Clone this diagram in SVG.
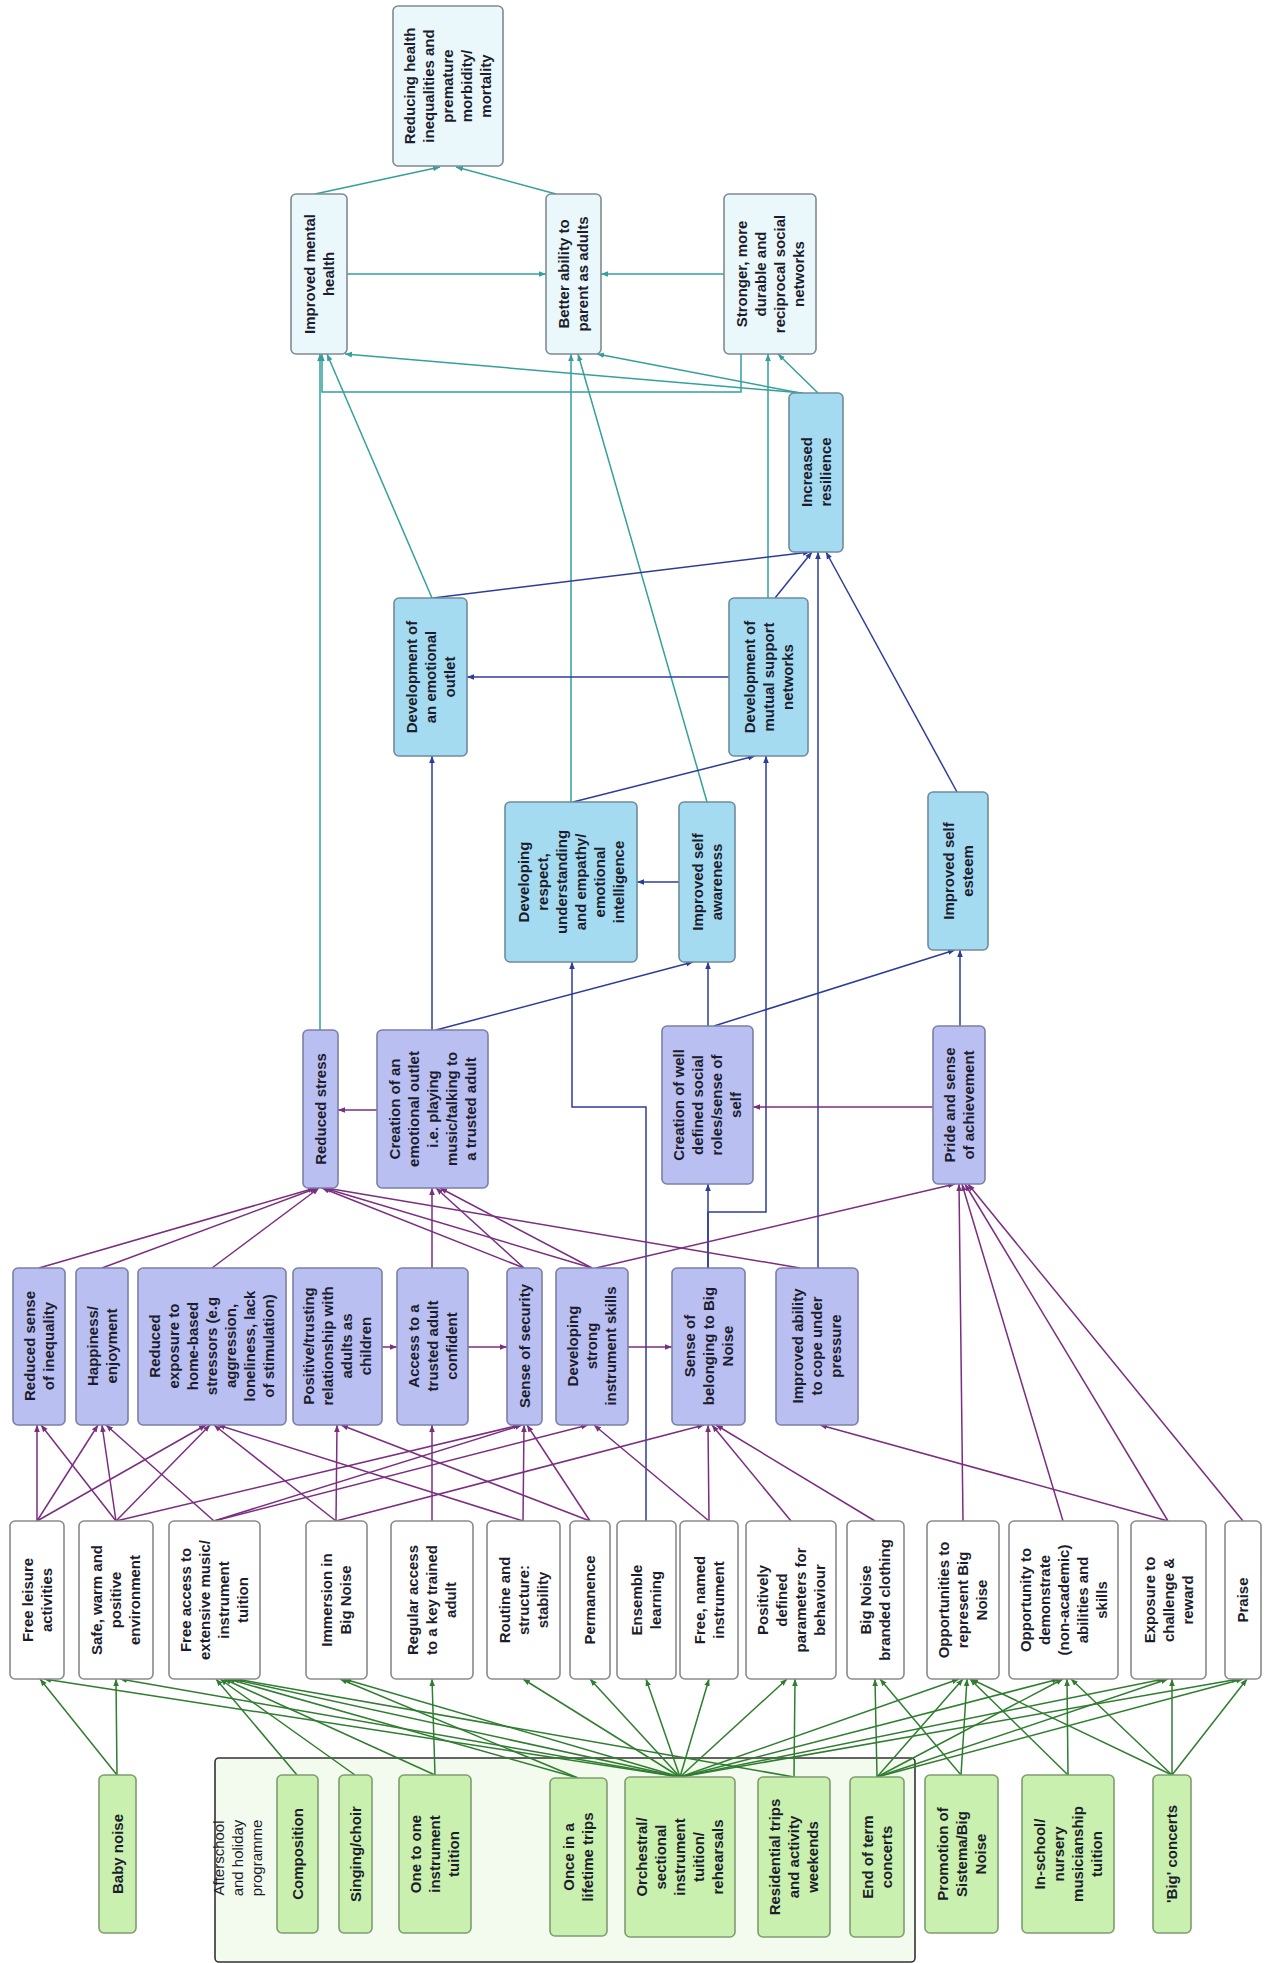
<svg xmlns="http://www.w3.org/2000/svg" width="1271" height="1963" viewBox="0 0 1271 1963">
<defs>
<style>
.t{font-family:"Liberation Sans",Arial,sans-serif;font-size:15px;font-weight:bold;fill:#1c1c2c;text-anchor:middle}
.lbl{font-family:"Liberation Sans",Arial,sans-serif;font-size:15px;fill:#1c1c2c;text-anchor:middle}
.cy{fill:#eaf8fc;stroke:#7f8b90;stroke-width:1.6}
.bl{fill:#a5dbf1;stroke:#6f8c9c;stroke-width:1.6}
.lv{fill:#b9bff1;stroke:#7a80a6;stroke-width:1.6}
.wh{fill:#ffffff;stroke:#8a8a8a;stroke-width:1.6}
.gr{fill:#c9f0ae;stroke:#7f9c72;stroke-width:1.6}
.ct{fill:#f3fbee;stroke:#333333;stroke-width:1.6}
.e{fill:none;stroke-width:1.5}
.teal{stroke:#35a09a}
.blue{stroke:#2d3c9c}
.purp{stroke:#7c2d80}
.grn{stroke:#2f7d2f}
</style>
<marker id="at" viewBox="0 0 10 10" refX="10" refY="5" markerWidth="7" markerHeight="7" markerUnits="userSpaceOnUse" orient="auto"><path d="M0,1 L10,5 L0,9 z" fill="#35a09a"/></marker>
<marker id="ab" viewBox="0 0 10 10" refX="10" refY="5" markerWidth="7" markerHeight="7" markerUnits="userSpaceOnUse" orient="auto"><path d="M0,1 L10,5 L0,9 z" fill="#2d3c9c"/></marker>
<marker id="ap" viewBox="0 0 10 10" refX="10" refY="5" markerWidth="7" markerHeight="7" markerUnits="userSpaceOnUse" orient="auto"><path d="M0,1 L10,5 L0,9 z" fill="#7c2d80"/></marker>
<marker id="ag" viewBox="0 0 10 10" refX="10" refY="5" markerWidth="7" markerHeight="7" markerUnits="userSpaceOnUse" orient="auto"><path d="M0,1 L10,5 L0,9 z" fill="#2f7d2f"/></marker>
</defs>
<rect width="1271" height="1963" fill="#ffffff"/>

<g id="container-afterschool">
<rect class="ct" x="215" y="1758" width="700" height="204" rx="4"/>
<text class="lbl" transform="translate(238,1858) rotate(-90)"><tspan x="0" y="-14">Afterschool</tspan><tspan x="0" y="5">and holiday</tspan><tspan x="0" y="24">programme</tspan></text>
</g>

<g id="connectors">
<g class="e teal" marker-end="url(#at)">
<line x1="315" y1="194" x2="440" y2="167"/>
<line x1="556" y1="194" x2="456" y2="167"/>
<line x1="347" y1="274" x2="546" y2="274"/>
<line x1="724" y1="274" x2="601" y2="274"/>
<line x1="320" y1="1030" x2="320" y2="354"/>
<line x1="432" y1="598" x2="327" y2="354"/>
<line x1="803" y1="393" x2="345" y2="354"/>
<polyline points="741,354 741,392 322,392 322,354"/>
<line x1="571" y1="802" x2="571" y2="354"/>
<line x1="707" y1="802" x2="578" y2="354"/>
<line x1="800" y1="393" x2="597" y2="354"/>
<line x1="768" y1="598" x2="768" y2="354"/>
<line x1="818" y1="393" x2="778" y2="354"/>
</g>
<g class="e blue" marker-end="url(#ab)">
<line x1="433" y1="598" x2="810" y2="552"/>
<line x1="775" y1="598" x2="812" y2="552"/>
<line x1="818" y1="1268" x2="818" y2="552"/>
<line x1="957" y1="792" x2="826" y2="552"/>
<line x1="729" y1="677" x2="467" y2="677"/>
<line x1="432" y1="1030" x2="432" y2="756"/>
<line x1="436" y1="1030" x2="693" y2="962"/>
<line x1="708" y1="1026" x2="708" y2="962"/>
<line x1="714" y1="1026" x2="955" y2="950"/>
<line x1="960" y1="1026" x2="960" y2="950"/>
<line x1="679" y1="882" x2="637" y2="882"/>
<line x1="573" y1="802" x2="755" y2="756"/>
<polyline points="646,1521 646,1107 572,1107 572,962"/>
<line x1="708" y1="1268" x2="708" y2="1184"/>
<polyline points="708,1268 708,1212 766,1212 766,756"/>
</g>
<g class="e purp" marker-end="url(#ap)">
<line x1="377" y1="1110" x2="338" y2="1110"/>
<line x1="933" y1="1107" x2="753" y2="1107"/>
<line x1="39" y1="1268" x2="315" y2="1188"/>
<line x1="102" y1="1268" x2="317" y2="1188"/>
<line x1="212" y1="1268" x2="319" y2="1188"/>
<line x1="524" y1="1268" x2="322" y2="1188"/>
<line x1="592" y1="1268" x2="324" y2="1188"/>
<line x1="800" y1="1268" x2="326" y2="1188"/>
<line x1="432" y1="1268" x2="432" y2="1188"/>
<line x1="524" y1="1268" x2="436" y2="1188"/>
<line x1="592" y1="1268" x2="440" y2="1188"/>
<line x1="596" y1="1268" x2="955" y2="1184"/>
<line x1="382" y1="1347" x2="397" y2="1347"/>
<line x1="468" y1="1347" x2="507" y2="1347"/>
<line x1="628" y1="1347" x2="672" y2="1347"/>
<line x1="37" y1="1521" x2="37" y2="1425"/>
<line x1="116" y1="1521" x2="41" y2="1425"/>
<line x1="37" y1="1521" x2="98" y2="1425"/>
<line x1="116" y1="1521" x2="102" y2="1425"/>
<line x1="214" y1="1521" x2="106" y2="1425"/>
<line x1="37" y1="1521" x2="206" y2="1425"/>
<line x1="116" y1="1521" x2="210" y2="1425"/>
<line x1="336" y1="1521" x2="214" y2="1425"/>
<line x1="523" y1="1521" x2="218" y2="1425"/>
<line x1="336" y1="1521" x2="337" y2="1425"/>
<line x1="590" y1="1521" x2="341" y2="1425"/>
<line x1="432" y1="1521" x2="432" y2="1425"/>
<line x1="116" y1="1521" x2="520" y2="1425"/>
<line x1="214" y1="1521" x2="522" y2="1425"/>
<line x1="523" y1="1521" x2="524" y2="1425"/>
<line x1="590" y1="1521" x2="527" y2="1425"/>
<line x1="214" y1="1521" x2="588" y2="1425"/>
<line x1="709" y1="1521" x2="594" y2="1425"/>
<line x1="709" y1="1521" x2="708" y2="1425"/>
<line x1="791" y1="1521" x2="712" y2="1425"/>
<line x1="875" y1="1521" x2="716" y2="1425"/>
<line x1="336" y1="1521" x2="704" y2="1425"/>
<line x1="1168" y1="1521" x2="820" y2="1425"/>
<line x1="963" y1="1521" x2="959" y2="1184"/>
<line x1="1063" y1="1521" x2="962" y2="1184"/>
<line x1="1168" y1="1521" x2="965" y2="1184"/>
<line x1="1243" y1="1521" x2="968" y2="1184"/>
</g>
<g class="e grn" marker-end="url(#ag)">
<line x1="117" y1="1775" x2="40" y2="1679"/>
<line x1="117" y1="1775" x2="116" y2="1679"/>
<line x1="297" y1="1775" x2="216" y2="1679"/>
<line x1="355" y1="1775" x2="220" y2="1679"/>
<line x1="435" y1="1775" x2="432" y2="1679"/>
<line x1="435" y1="1775" x2="224" y2="1679"/>
<line x1="578" y1="1778" x2="228" y2="1679"/>
<line x1="578" y1="1778" x2="340" y2="1679"/>
<line x1="680" y1="1777" x2="44" y2="1679"/>
<line x1="680" y1="1777" x2="120" y2="1679"/>
<line x1="680" y1="1777" x2="232" y2="1679"/>
<line x1="680" y1="1777" x2="344" y2="1679"/>
<line x1="680" y1="1777" x2="523" y2="1679"/>
<line x1="680" y1="1777" x2="590" y2="1679"/>
<line x1="680" y1="1777" x2="646" y2="1679"/>
<line x1="680" y1="1777" x2="709" y2="1679"/>
<line x1="680" y1="1777" x2="787" y2="1679"/>
<line x1="680" y1="1777" x2="959" y2="1679"/>
<line x1="680" y1="1777" x2="1059" y2="1679"/>
<line x1="680" y1="1777" x2="1164" y2="1679"/>
<line x1="680" y1="1777" x2="1239" y2="1679"/>
<line x1="794" y1="1777" x2="236" y2="1679"/>
<line x1="794" y1="1777" x2="795" y2="1679"/>
<line x1="877" y1="1777" x2="875" y2="1679"/>
<line x1="877" y1="1777" x2="963" y2="1679"/>
<line x1="877" y1="1777" x2="1063" y2="1679"/>
<line x1="877" y1="1777" x2="1168" y2="1679"/>
<line x1="877" y1="1777" x2="1243" y2="1679"/>
<line x1="961" y1="1775" x2="967" y2="1679"/>
<line x1="961" y1="1775" x2="880" y2="1679"/>
<line x1="1068" y1="1775" x2="1067" y2="1679"/>
<line x1="1068" y1="1775" x2="970" y2="1679"/>
<line x1="1172" y1="1775" x2="971" y2="1679"/>
<line x1="1172" y1="1775" x2="1071" y2="1679"/>
<line x1="1172" y1="1775" x2="1172" y2="1679"/>
<line x1="1172" y1="1775" x2="1247" y2="1679"/>
</g>
</g>

<g id="n-reducing"><rect class="cy" x="393" y="6" width="110" height="160" rx="5"/><text class="t" transform="translate(448,86) rotate(-90)"><tspan x="0" y="-33">Reducing health</tspan><tspan x="0" y="-14">inequalities and</tspan><tspan x="0" y="5">premature</tspan><tspan x="0" y="24">morbidity/</tspan><tspan x="0" y="43">mortality</tspan></text></g>
<g id="n-mental-health"><rect class="cy" x="291" y="194" width="56" height="160" rx="5"/><text class="t" transform="translate(319,274) rotate(-90)"><tspan x="0" y="-4.5">Improved mental</tspan><tspan x="0" y="14.5">health</tspan></text></g>
<g id="n-parent"><rect class="cy" x="546" y="194" width="55" height="160" rx="5"/><text class="t" transform="translate(573.5,274) rotate(-90)"><tspan x="0" y="-4.5">Better ability to</tspan><tspan x="0" y="14.5">parent as adults</tspan></text></g>
<g id="n-networks"><rect class="cy" x="724" y="194" width="92" height="160" rx="5"/><text class="t" transform="translate(770,274) rotate(-90)"><tspan x="0" y="-23.5">Stronger, more</tspan><tspan x="0" y="-4.5">durable and</tspan><tspan x="0" y="14.5">reciprocal social</tspan><tspan x="0" y="33.5">networks</tspan></text></g>
<g id="n-resilience"><rect class="bl" x="789" y="393" width="54" height="159" rx="5"/><text class="t" transform="translate(816,472) rotate(-90)"><tspan x="0" y="-4.5">Increased</tspan><tspan x="0" y="14.5">resilience</tspan></text></g>
<g id="n-dev-outlet"><rect class="bl" x="394" y="598" width="73" height="158" rx="5"/><text class="t" transform="translate(430.5,677) rotate(-90)"><tspan x="0" y="-14">Development of</tspan><tspan x="0" y="5">an emotional</tspan><tspan x="0" y="24">outlet</tspan></text></g>
<g id="n-dev-support"><rect class="bl" x="729" y="598" width="79" height="158" rx="5"/><text class="t" transform="translate(768.5,677) rotate(-90)"><tspan x="0" y="-14">Development of</tspan><tspan x="0" y="5">mutual support</tspan><tspan x="0" y="24">networks</tspan></text></g>
<g id="n-respect"><rect class="bl" x="505" y="802" width="132" height="160" rx="5"/><text class="t" transform="translate(571,882) rotate(-90)"><tspan x="0" y="-42.5">Developing</tspan><tspan x="0" y="-23.5">respect,</tspan><tspan x="0" y="-4.5">understanding</tspan><tspan x="0" y="14.5">and empathy/</tspan><tspan x="0" y="33.5">emotional</tspan><tspan x="0" y="52.5">intelligence</tspan></text></g>
<g id="n-self-awareness"><rect class="bl" x="679" y="802" width="56" height="160" rx="5"/><text class="t" transform="translate(707,882) rotate(-90)"><tspan x="0" y="-4.5">Improved self</tspan><tspan x="0" y="14.5">awareness</tspan></text></g>
<g id="n-self-esteem"><rect class="bl" x="928" y="792" width="60" height="158" rx="5"/><text class="t" transform="translate(958,871) rotate(-90)"><tspan x="0" y="-4.5">Improved self</tspan><tspan x="0" y="14.5">esteem</tspan></text></g>
<g id="n-reduced-stress"><rect class="lv" x="303" y="1030" width="35" height="158" rx="5"/><text class="t" transform="translate(320.5,1109) rotate(-90)"><tspan x="0" y="5">Reduced stress</tspan></text></g>
<g id="n-creation-outlet"><rect class="lv" x="377" y="1030" width="111" height="158" rx="5"/><text class="t" transform="translate(432.5,1109) rotate(-90)"><tspan x="0" y="-33">Creation of an</tspan><tspan x="0" y="-14">emotional outlet</tspan><tspan x="0" y="5">i.e. playing</tspan><tspan x="0" y="24">music/talking to</tspan><tspan x="0" y="43">a trusted adult</tspan></text></g>
<g id="n-roles"><rect class="lv" x="662" y="1026" width="91" height="158" rx="5"/><text class="t" transform="translate(707.5,1105) rotate(-90)"><tspan x="0" y="-23.5">Creation of well</tspan><tspan x="0" y="-4.5">defined social</tspan><tspan x="0" y="14.5">roles/sense of</tspan><tspan x="0" y="33.5">self</tspan></text></g>
<g id="n-pride"><rect class="lv" x="933" y="1026" width="52" height="158" rx="5"/><text class="t" transform="translate(959,1105) rotate(-90)"><tspan x="0" y="-4.5">Pride and sense</tspan><tspan x="0" y="14.5">of achievement</tspan></text></g>
<g id="n-inequality"><rect class="lv" x="13" y="1268" width="52" height="157" rx="5"/><text class="t" transform="translate(39,1346) rotate(-90)"><tspan x="0" y="-4.5">Reduced sense</tspan><tspan x="0" y="14.5">of inequality</tspan></text></g>
<g id="n-happiness"><rect class="lv" x="76" y="1268" width="52" height="157" rx="5"/><text class="t" transform="translate(102,1346) rotate(-90)"><tspan x="0" y="-4.5">Happiness/</tspan><tspan x="0" y="14.5">enjoyment</tspan></text></g>
<g id="n-exposure-stressors"><rect class="lv" x="138" y="1268" width="148" height="157" rx="5"/><text class="t" transform="translate(212,1346) rotate(-90)"><tspan x="0" y="-52">Reduced</tspan><tspan x="0" y="-33">exposure to</tspan><tspan x="0" y="-14">home-based</tspan><tspan x="0" y="5">stressors (e.g</tspan><tspan x="0" y="24">aggression,</tspan><tspan x="0" y="43">loneliness, lack</tspan><tspan x="0" y="62">of stimulation)</tspan></text></g>
<g id="n-positive-relationship"><rect class="lv" x="293" y="1268" width="89" height="157" rx="5"/><text class="t" transform="translate(337.5,1346) rotate(-90)"><tspan x="0" y="-23.5">Positive/trusting</tspan><tspan x="0" y="-4.5">relationship with</tspan><tspan x="0" y="14.5">adults as</tspan><tspan x="0" y="33.5">children</tspan></text></g>
<g id="n-access-adult"><rect class="lv" x="397" y="1268" width="71" height="157" rx="5"/><text class="t" transform="translate(432.5,1346) rotate(-90)"><tspan x="0" y="-14">Access to a</tspan><tspan x="0" y="5">trusted adult</tspan><tspan x="0" y="24">confident</tspan></text></g>
<g id="n-security"><rect class="lv" x="507" y="1268" width="35" height="157" rx="5"/><text class="t" transform="translate(524.5,1346) rotate(-90)"><tspan x="0" y="5">Sense of security</tspan></text></g>
<g id="n-skills"><rect class="lv" x="556" y="1268" width="72" height="157" rx="5"/><text class="t" transform="translate(592,1346) rotate(-90)"><tspan x="0" y="-14">Developing</tspan><tspan x="0" y="5">strong</tspan><tspan x="0" y="24">instrument skills</tspan></text></g>
<g id="n-belonging"><rect class="lv" x="672" y="1268" width="73" height="157" rx="5"/><text class="t" transform="translate(708.5,1346) rotate(-90)"><tspan x="0" y="-14">Sense of</tspan><tspan x="0" y="5">belonging to Big</tspan><tspan x="0" y="24">Noise</tspan></text></g>
<g id="n-cope"><rect class="lv" x="776" y="1268" width="82" height="157" rx="5"/><text class="t" transform="translate(817,1346) rotate(-90)"><tspan x="0" y="-14">Improved ability</tspan><tspan x="0" y="5">to cope under</tspan><tspan x="0" y="24">pressure</tspan></text></g>
<g id="n-leisure"><rect class="wh" x="10" y="1521" width="54" height="158" rx="5"/><text class="t" transform="translate(37,1600) rotate(-90)"><tspan x="0" y="-4.5">Free leisure</tspan><tspan x="0" y="14.5">activities</tspan></text></g>
<g id="n-safe"><rect class="wh" x="79" y="1521" width="74" height="158" rx="5"/><text class="t" transform="translate(116,1600) rotate(-90)"><tspan x="0" y="-14">Safe, warm and</tspan><tspan x="0" y="5">positive</tspan><tspan x="0" y="24">environment</tspan></text></g>
<g id="n-free-access"><rect class="wh" x="169" y="1521" width="91" height="158" rx="5"/><text class="t" transform="translate(214.5,1600) rotate(-90)"><tspan x="0" y="-23.5">Free access to</tspan><tspan x="0" y="-4.5">extensive music/</tspan><tspan x="0" y="14.5">instrument</tspan><tspan x="0" y="33.5">tuition</tspan></text></g>
<g id="n-immersion"><rect class="wh" x="306" y="1521" width="61" height="158" rx="5"/><text class="t" transform="translate(336.5,1600) rotate(-90)"><tspan x="0" y="-4.5">Immersion in</tspan><tspan x="0" y="14.5">Big Noise</tspan></text></g>
<g id="n-regular-access"><rect class="wh" x="391" y="1521" width="82" height="158" rx="5"/><text class="t" transform="translate(432,1600) rotate(-90)"><tspan x="0" y="-14">Regular access</tspan><tspan x="0" y="5">to a key trained</tspan><tspan x="0" y="24">adult</tspan></text></g>
<g id="n-routine"><rect class="wh" x="487" y="1521" width="73" height="158" rx="5"/><text class="t" transform="translate(523.5,1600) rotate(-90)"><tspan x="0" y="-14">Routine and</tspan><tspan x="0" y="5">structure:</tspan><tspan x="0" y="24">stability</tspan></text></g>
<g id="n-permanence"><rect class="wh" x="570" y="1521" width="40" height="158" rx="5"/><text class="t" transform="translate(590,1600) rotate(-90)"><tspan x="0" y="5">Permanence</tspan></text></g>
<g id="n-ensemble"><rect class="wh" x="617" y="1521" width="59" height="158" rx="5"/><text class="t" transform="translate(646.5,1600) rotate(-90)"><tspan x="0" y="-4.5">Ensemble</tspan><tspan x="0" y="14.5">learning</tspan></text></g>
<g id="n-named-instrument"><rect class="wh" x="680" y="1521" width="58" height="158" rx="5"/><text class="t" transform="translate(709,1600) rotate(-90)"><tspan x="0" y="-4.5">Free, named</tspan><tspan x="0" y="14.5">instrument</tspan></text></g>
<g id="n-parameters"><rect class="wh" x="746" y="1521" width="90" height="158" rx="5"/><text class="t" transform="translate(791,1600) rotate(-90)"><tspan x="0" y="-23.5">Positively</tspan><tspan x="0" y="-4.5">defined</tspan><tspan x="0" y="14.5">parameters for</tspan><tspan x="0" y="33.5">behaviour</tspan></text></g>
<g id="n-clothing"><rect class="wh" x="847" y="1521" width="57" height="158" rx="5"/><text class="t" transform="translate(875.5,1600) rotate(-90)"><tspan x="0" y="-4.5">Big Noise</tspan><tspan x="0" y="14.5">branded clothing</tspan></text></g>
<g id="n-represent"><rect class="wh" x="927" y="1521" width="72" height="158" rx="5"/><text class="t" transform="translate(963,1600) rotate(-90)"><tspan x="0" y="-14">Opportunities to</tspan><tspan x="0" y="5">represent Big</tspan><tspan x="0" y="24">Noise</tspan></text></g>
<g id="n-demonstrate"><rect class="wh" x="1009" y="1521" width="109" height="158" rx="5"/><text class="t" transform="translate(1063.5,1600) rotate(-90)"><tspan x="0" y="-33">Opportunity to</tspan><tspan x="0" y="-14">demonstrate</tspan><tspan x="0" y="5">(non-academic)</tspan><tspan x="0" y="24">abilities and</tspan><tspan x="0" y="43">skills</tspan></text></g>
<g id="n-challenge"><rect class="wh" x="1131" y="1521" width="75" height="158" rx="5"/><text class="t" transform="translate(1168.5,1600) rotate(-90)"><tspan x="0" y="-14">Exposure to</tspan><tspan x="0" y="5">challenge &amp;</tspan><tspan x="0" y="24">reward</tspan></text></g>
<g id="n-praise"><rect class="wh" x="1225" y="1521" width="36" height="158" rx="5"/><text class="t" transform="translate(1243,1600) rotate(-90)"><tspan x="0" y="5">Praise</tspan></text></g>
<g id="n-baby-noise"><rect class="gr" x="99" y="1775" width="37" height="158" rx="5"/><text class="t" transform="translate(117.5,1854) rotate(-90)"><tspan x="0" y="5">Baby noise</tspan></text></g>
<g id="n-composition"><rect class="gr" x="277" y="1775" width="41" height="158" rx="5"/><text class="t" transform="translate(297.5,1854) rotate(-90)"><tspan x="0" y="5">Composition</tspan></text></g>
<g id="n-singing"><rect class="gr" x="339" y="1775" width="33" height="158" rx="5"/><text class="t" transform="translate(355.5,1854) rotate(-90)"><tspan x="0" y="5">Singing/choir</tspan></text></g>
<g id="n-one-to-one"><rect class="gr" x="399" y="1775" width="72" height="158" rx="5"/><text class="t" transform="translate(435,1854) rotate(-90)"><tspan x="0" y="-14">One to one</tspan><tspan x="0" y="5">instrument</tspan><tspan x="0" y="24">tuition</tspan></text></g>
<g id="n-lifetime-trips"><rect class="gr" x="550" y="1778" width="57" height="158" rx="5"/><text class="t" transform="translate(578.5,1857) rotate(-90)"><tspan x="0" y="-4.5">Once in a</tspan><tspan x="0" y="14.5">lifetime trips</tspan></text></g>
<g id="n-orchestral"><rect class="gr" x="625" y="1777" width="110" height="160" rx="5"/><text class="t" transform="translate(680,1857) rotate(-90)"><tspan x="0" y="-33">Orchestral/</tspan><tspan x="0" y="-14">sectional</tspan><tspan x="0" y="5">instrument</tspan><tspan x="0" y="24">tuition/</tspan><tspan x="0" y="43">rehearsals</tspan></text></g>
<g id="n-residential"><rect class="gr" x="758" y="1777" width="72" height="160" rx="5"/><text class="t" transform="translate(794,1857) rotate(-90)"><tspan x="0" y="-14">Residential trips</tspan><tspan x="0" y="5">and activity</tspan><tspan x="0" y="24">weekends</tspan></text></g>
<g id="n-end-of-term"><rect class="gr" x="850" y="1777" width="54" height="160" rx="5"/><text class="t" transform="translate(877,1857) rotate(-90)"><tspan x="0" y="-4.5">End of term</tspan><tspan x="0" y="14.5">concerts</tspan></text></g>
<g id="n-promotion"><rect class="gr" x="925" y="1775" width="73" height="158" rx="5"/><text class="t" transform="translate(961.5,1854) rotate(-90)"><tspan x="0" y="-14">Promotion of</tspan><tspan x="0" y="5">Sistema/Big</tspan><tspan x="0" y="24">Noise</tspan></text></g>
<g id="n-in-school"><rect class="gr" x="1022" y="1775" width="92" height="158" rx="5"/><text class="t" transform="translate(1068,1854) rotate(-90)"><tspan x="0" y="-23.5">In-school/</tspan><tspan x="0" y="-4.5">nursery</tspan><tspan x="0" y="14.5">musicianship</tspan><tspan x="0" y="33.5">tuition</tspan></text></g>
<g id="n-big-concerts"><rect class="gr" x="1153" y="1775" width="38" height="158" rx="5"/><text class="t" transform="translate(1172,1854) rotate(-90)"><tspan x="0" y="5">'Big' concerts</tspan></text></g>
</svg>
